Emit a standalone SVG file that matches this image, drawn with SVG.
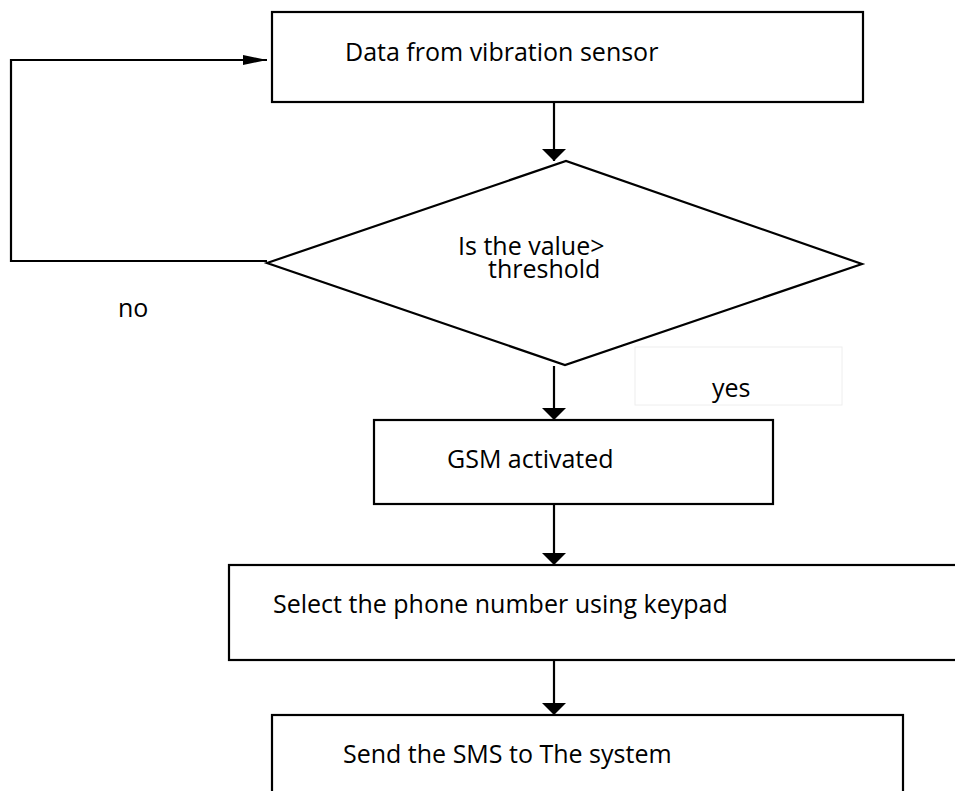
<svg xmlns="http://www.w3.org/2000/svg" width="955" height="791" viewBox="0 0 955 791">
<defs>
<style>
.box{fill:#fff;stroke:#000;stroke-width:2.2}
.ln{fill:none;stroke:#000;stroke-width:2.2}
.t{font-family:"Open Sans","Noto Sans","Liberation Sans",sans-serif;font-size:25px;fill:#000}
</style>
<marker id="ahb" viewBox="0 0 12 24" refX="12" refY="12" markerWidth="12" markerHeight="24" markerUnits="userSpaceOnUse" orient="auto">
<path d="M0,0 L12,12 L0,24 Z" fill="#000"/>
</marker>
<marker id="ahl" viewBox="0 0 24 10" refX="24" refY="5" markerWidth="24" markerHeight="10" markerUnits="userSpaceOnUse" orient="auto">
<path d="M0,0 L24,5 L0,10 Z" fill="#000"/>
</marker>
</defs>
<rect width="955" height="791" fill="#fff"/>
<g id="connectors">
<path class="ln" d="M267,261 H11 V60 H267" marker-end="url(#ahl)"/>
<line class="ln" x1="554" y1="102" x2="554" y2="161" marker-end="url(#ahb)"/>
<line class="ln" x1="554" y1="366" x2="554" y2="420" marker-end="url(#ahb)"/>
<line class="ln" x1="554" y1="504" x2="554" y2="565" marker-end="url(#ahb)"/>
<line class="ln" x1="554" y1="661" x2="554" y2="715" marker-end="url(#ahb)"/>
</g>
<g id="n-data">
<rect class="box" x="272" y="12" width="591" height="90"/>
<text class="t" x="345" y="61">Data from vibration sensor</text>
</g>
<g id="n-decision">
<polygon class="box" points="267,263 566,161 862,264 565,365"/>
<text class="t" x="458" y="255">Is the value&gt;</text>
<text class="t" x="488" y="278">threshold</text>
</g>
<g id="l-no">
<text class="t" x="118" y="317">no</text>
</g>
<g id="l-yes">
<rect x="635" y="347" width="207" height="58" fill="#fff" stroke="#eeeeee" stroke-width="1"/>
<text class="t" x="712" y="397">yes</text>
</g>
<g id="n-gsm">
<rect class="box" x="374" y="420" width="399" height="84"/>
<text class="t" x="447" y="468">GSM activated</text>
</g>
<g id="n-select">
<rect class="box" x="229" y="565" width="740" height="95"/>
<text class="t" x="273" y="613">Select the phone number using keypad</text>
</g>
<g id="n-send">
<rect class="box" x="272" y="715" width="631" height="100"/>
<text class="t" x="343" y="763">Send the SMS to The system</text>
</g>
</svg>
